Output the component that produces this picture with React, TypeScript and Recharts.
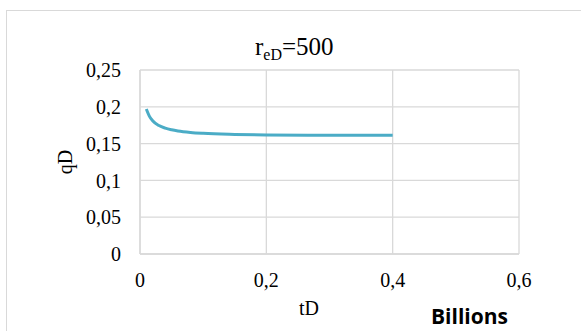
import { CartesianGrid, Line, LineChart, XAxis, YAxis } from "recharts";

/* data (tD in billions) */
const tD = [0.01, 0.015, 0.02, 0.03, 0.04, 0.05, 0.06, 0.08, 0.1, 0.15, 0.2, 0.3, 0.4];
const qD = [0.197, 0.187, 0.181, 0.1745, 0.171, 0.1688, 0.1672, 0.1652, 0.164, 0.1625, 0.1617, 0.1613, 0.1613];

const xTicks = [0, 0.2, 0.4, 0.6];
const yTicks = [0, 0.05, 0.1, 0.15, 0.2, 0.25];

const data = tD.map((t, i) => ({ t, q: qD[i] }));

const W = 581;
const H = 331;
const GRID = "#d9d9d9";
const LINE = "#4bacc6";
const SERIF = "'Liberation Serif', 'Times New Roman', serif";

const comma = (v: number) => String(v).replace(".", ",");

export default function App() {
  return (
    <div style={{ position: "absolute", left: 0, top: 0, width: W, height: H, background: "#fff", overflow: "hidden" }}>
      {/* chart frame, cut off on the right and bottom */}
      <div
        style={{
          position: "absolute",
          left: 6,
          top: 10,
          width: W,
          height: H,
          borderLeft: `1.5px solid ${GRID}`,
          borderTop: `1.5px solid ${GRID}`,
        }}
      />
      <LineChart
        width={W}
        height={H}
        data={data}
        margin={{ top: 70, right: 62, bottom: 0, left: 0 }}
        style={{ position: "absolute", left: 0, top: 0 }}
      >
        <CartesianGrid stroke={GRID} strokeWidth={1.3} />
        <XAxis
          dataKey="t"
          type="number"
          domain={[0, 0.6]}
          ticks={xTicks}
          interval={0}
          tickFormatter={comma}
          tickLine={false}
          axisLine={{ stroke: GRID, strokeWidth: 1.3 }}
          tickMargin={13}
          height={77}
          tick={{ fill: "#000", fontSize: 20, fontFamily: SERIF }}
        />
        <YAxis
          type="number"
          domain={[0, 0.25]}
          ticks={yTicks}
          interval={0}
          tickFormatter={comma}
          tickLine={false}
          axisLine={{ stroke: GRID, strokeWidth: 1.3 }}
          tickMargin={13}
          width={140}
          tick={{ fill: "#000", fontSize: 20, fontFamily: SERIF }}
        />
        <Line
          dataKey="q"
          type="monotone"
          stroke={LINE}
          strokeWidth={3}
          dot={false}
          isAnimationActive={false}
        />
      </LineChart>

      {/* title */}
      <div
        style={{
          position: "absolute",
          left: 255,
          top: 34,
          fontFamily: SERIF,
          fontSize: 25,
          lineHeight: "25px",
          color: "#000",
          whiteSpace: "nowrap",
        }}
      >
        r<sub style={{ fontSize: 16, verticalAlign: "-5px" }}>eD</sub>=500
      </div>

      {/* y axis title */}
      <div
        style={{
          position: "absolute",
          left: 65,
          top: 162,
          transform: "translate(-50%, -50%) rotate(-90deg)",
          fontFamily: SERIF,
          fontSize: 20,
          lineHeight: "20px",
          color: "#000",
          whiteSpace: "nowrap",
        }}
      >
        qD
      </div>

      {/* x axis title */}
      <div
        style={{
          position: "absolute",
          left: 299,
          top: 298,
          fontFamily: SERIF,
          fontSize: 20,
          lineHeight: "20px",
          color: "#000",
        }}
      >
        tD
      </div>

      {/* display units */}
      <div
        style={{
          position: "absolute",
          left: 431,
          top: 304,
          fontFamily: "'Open Sans', sans-serif",
          fontWeight: 700,
          fontSize: 21,
          lineHeight: "24px",
          color: "#000",
        }}
      >
        Billions
      </div>
    </div>
  );
}
